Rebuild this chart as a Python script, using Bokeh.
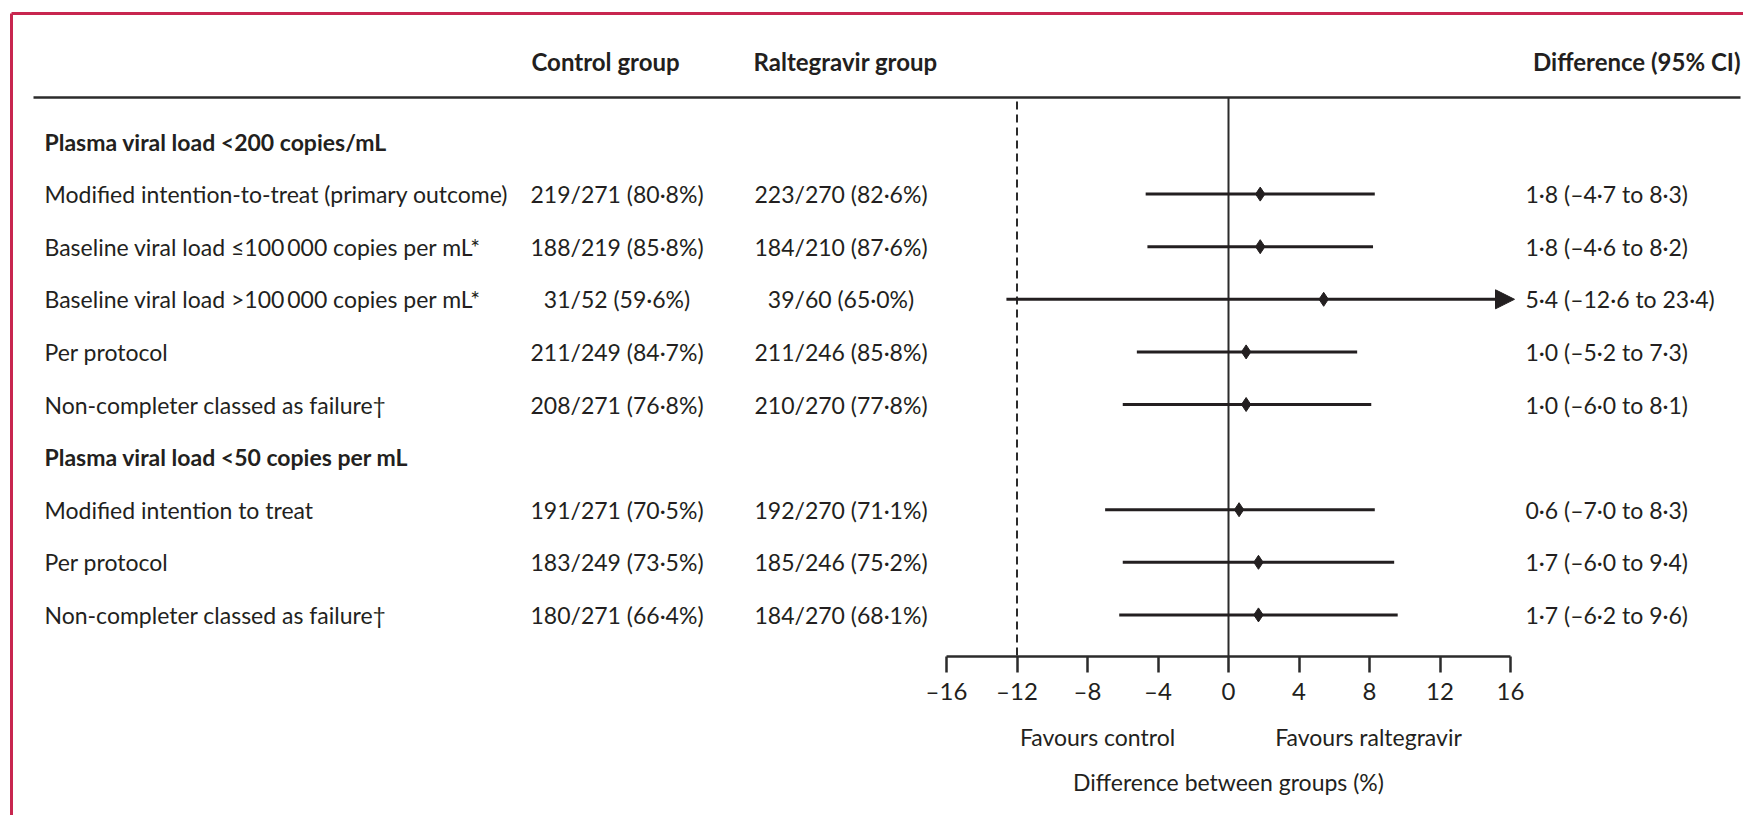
from bokeh.plotting import figure
from bokeh.models import Range1d, LinearAxis, FixedTicker, Arrow, NormalHead
from bokeh.core.properties import value
from bokeh.embed import file_html
from bokeh.resources import INLINE

# ---------------- data ----------------
group_titles = ["Plasma viral load <200 copies/mL", "Plasma viral load <50 copies per mL"]
group_counts = [5, 3]
outcomes = [
    "Modified intention-to-treat (primary outcome)",
    "Baseline viral load \u2264100\u2009000 copies per mL*",
    "Baseline viral load >100\u2009000 copies per mL*",
    "Per protocol",
    "Non-completer classed as failure\u2020",
    "Modified intention to treat",
    "Per protocol",
    "Non-completer classed as failure\u2020",
]
control_events = [219, 188, 31, 211, 208, 191, 183, 180]
control_totals = [271, 219, 52, 249, 271, 271, 249, 271]
control_pct = [80.8, 85.8, 59.6, 84.7, 76.8, 70.5, 73.5, 66.4]
ralt_events = [223, 184, 39, 211, 210, 192, 185, 184]
ralt_totals = [270, 210, 60, 246, 270, 270, 246, 270]
ralt_pct = [82.6, 87.6, 65.0, 85.8, 77.8, 71.1, 75.2, 68.1]
diff_est = [1.8, 1.8, 5.4, 1.0, 1.0, 0.6, 1.7, 1.7]
diff_lo = [-4.7, -4.6, -12.6, -5.2, -6.0, -7.0, -6.0, -6.2]
diff_hi = [8.3, 8.2, 23.4, 7.3, 8.1, 8.3, 9.4, 9.6]
margin_value = -12
tick_values = [-16, -12, -8, -4, 0, 4, 8, 12, 16]
tick_labels = ["\u201316", "\u201312", "\u20138", "\u20134", "0", "4", "8", "12", "16"]
col_headers = ["Control group", "Raltegravir group"]
diff_header = "Difference (95% CI)"
favours_labels = ["Favours control", "Favours raltegravir"]
axis_title = "Difference between groups (%)"

# ---------------- layout ----------------
W, H = 1743, 815
FONT = "Lato"
BODY = "23px"
HEAD = "24px"
INK = "#231f20"
LINE = "#2b2b2b"
FRAME_RED = "#c8264f"
X_PX_MIN, X_PX_MAX = 946, 1510
AX_MIN, AX_MAX = tick_values[0], tick_values[-1]
PPU = (X_PX_MAX - X_PX_MIN) / (AX_MAX - AX_MIN)
X0 = AX_MIN - X_PX_MIN / PPU
X1 = X0 + W / PPU
ROW0_PX, ROW_PX = 141, 52.6


def xd(px):
    return X0 + px / PPU


def yd(py):
    return (py - ROW0_PX) / ROW_PX


def num(v):
    return f"{v:.1f}".replace(".", "\u00b7").replace("-", "\u2013")


AXIS_Y = yd(656)
HEAD_Y = yd(61)
RULE_Y = yd(97)

p = figure(width=W, height=H, x_range=Range1d(X0, X1), y_range=Range1d(yd(H), yd(0)),
           x_axis_type=None, y_axis_type=None, toolbar_location=None,
           output_backend="svg", min_border=0, outline_line_color=None,
           background_fill_color="white", border_fill_color="white")

# row positions
head_rows, item_rows = [], []
r = 0
for n in group_counts:
    head_rows.append(r)
    r += 1
    for _ in range(n):
        item_rows.append(r)
        r += 1


def txt(xs, ys, texts, size=BODY, bold=False, align="left"):
    p.text(x=xs, y=ys, text=texts, text_font=value(FONT), text_font_size=size,
           text_font_style="bold" if bold else "normal", text_align=align,
           text_baseline="middle", text_color=INK)


# frame border (top and left)
p.segment(x0=[xd(11), xd(11)], y0=[yd(13), yd(13)], x1=[xd(11), xd(W + 10)], y1=[yd(H + 10), yd(13)],
          line_color=FRAME_RED, line_width=3)

# header rule
p.segment(x0=[xd(33)], y0=[RULE_Y], x1=[xd(1740)], y1=[RULE_Y], line_color=LINE, line_width=2.5)

# column headers
txt([xd(531), xd(753)], [HEAD_Y] * 2, col_headers, size=HEAD, bold=True)
txt([xd(1740)], [HEAD_Y], [diff_header], size=HEAD, bold=True, align="right")

# group titles
txt([xd(44)] * len(head_rows), head_rows, group_titles, bold=True)
# outcome labels
txt([xd(44)] * len(item_rows), item_rows, outcomes)

ctrl_text = [f"{str(e):\u2007>3}/{t} ({num(pc)}%)" for e, t, pc in zip(control_events, control_totals, control_pct)]
ralt_text = [f"{str(e):\u2007>3}/{t} ({num(pc)}%)" for e, t, pc in zip(ralt_events, ralt_totals, ralt_pct)]
diff_text = [f"{num(e)} ({num(lo)} to {num(hi)})" for e, lo, hi in zip(diff_est, diff_lo, diff_hi)]
txt([xd(530)] * len(item_rows), item_rows, ctrl_text)
txt([xd(754)] * len(item_rows), item_rows, ralt_text)
txt([xd(1525)] * len(item_rows), item_rows, diff_text)

# reference lines
p.segment(x0=[0], y0=[RULE_Y], x1=[0], y1=[AXIS_Y], line_color=LINE, line_width=2)
p.segment(x0=[margin_value], y0=[yd(101)], x1=[margin_value], y1=[AXIS_Y], line_color=LINE,
          line_width=2, line_dash="8 5")

# confidence intervals
ARROW_TIP = xd(1514)
seg_x0, seg_x1, seg_y = [], [], []
for y, lo, hi in zip(item_rows, diff_lo, diff_hi):
    if hi > AX_MAX:
        p.add_layout(Arrow(x_start=lo, y_start=y, x_end=ARROW_TIP, y_end=y, line_width=3,
                           line_color=INK,
                           end=NormalHead(size=19, fill_color=INK, line_color=INK, line_width=1)))
    else:
        seg_x0.append(lo)
        seg_x1.append(hi)
        seg_y.append(y)
p.segment(x0=seg_x0, y0=seg_y, x1=seg_x1, y1=seg_y, line_color=INK, line_width=3)
p.scatter(x=diff_est, y=item_rows, marker="diamond", size=14, fill_color=INK, line_color=INK)

# x axis
ax = LinearAxis(ticker=FixedTicker(ticks=tick_values),
                major_label_overrides={v: l for v, l in zip(tick_values, tick_labels)},
                bounds=(AX_MIN, AX_MAX), fixed_location=AXIS_Y,
                major_tick_in=0, major_tick_out=16, minor_tick_in=0, minor_tick_out=0,
                axis_line_width=2.5, axis_line_color=LINE,
                major_tick_line_width=2.5, major_tick_line_color=LINE,
                major_label_text_font=FONT, major_label_text_font_size="24px",
                major_label_text_color=INK, major_label_standoff=3)
p.add_layout(ax, "below")

# favours labels and axis title
txt([xd(1097), xd(1368)], [yd(736)] * 2, favours_labels, align="center")
txt([0], [yd(781)], [axis_title], align="center")

open("out.html", "w").write(file_html(p, INLINE))
